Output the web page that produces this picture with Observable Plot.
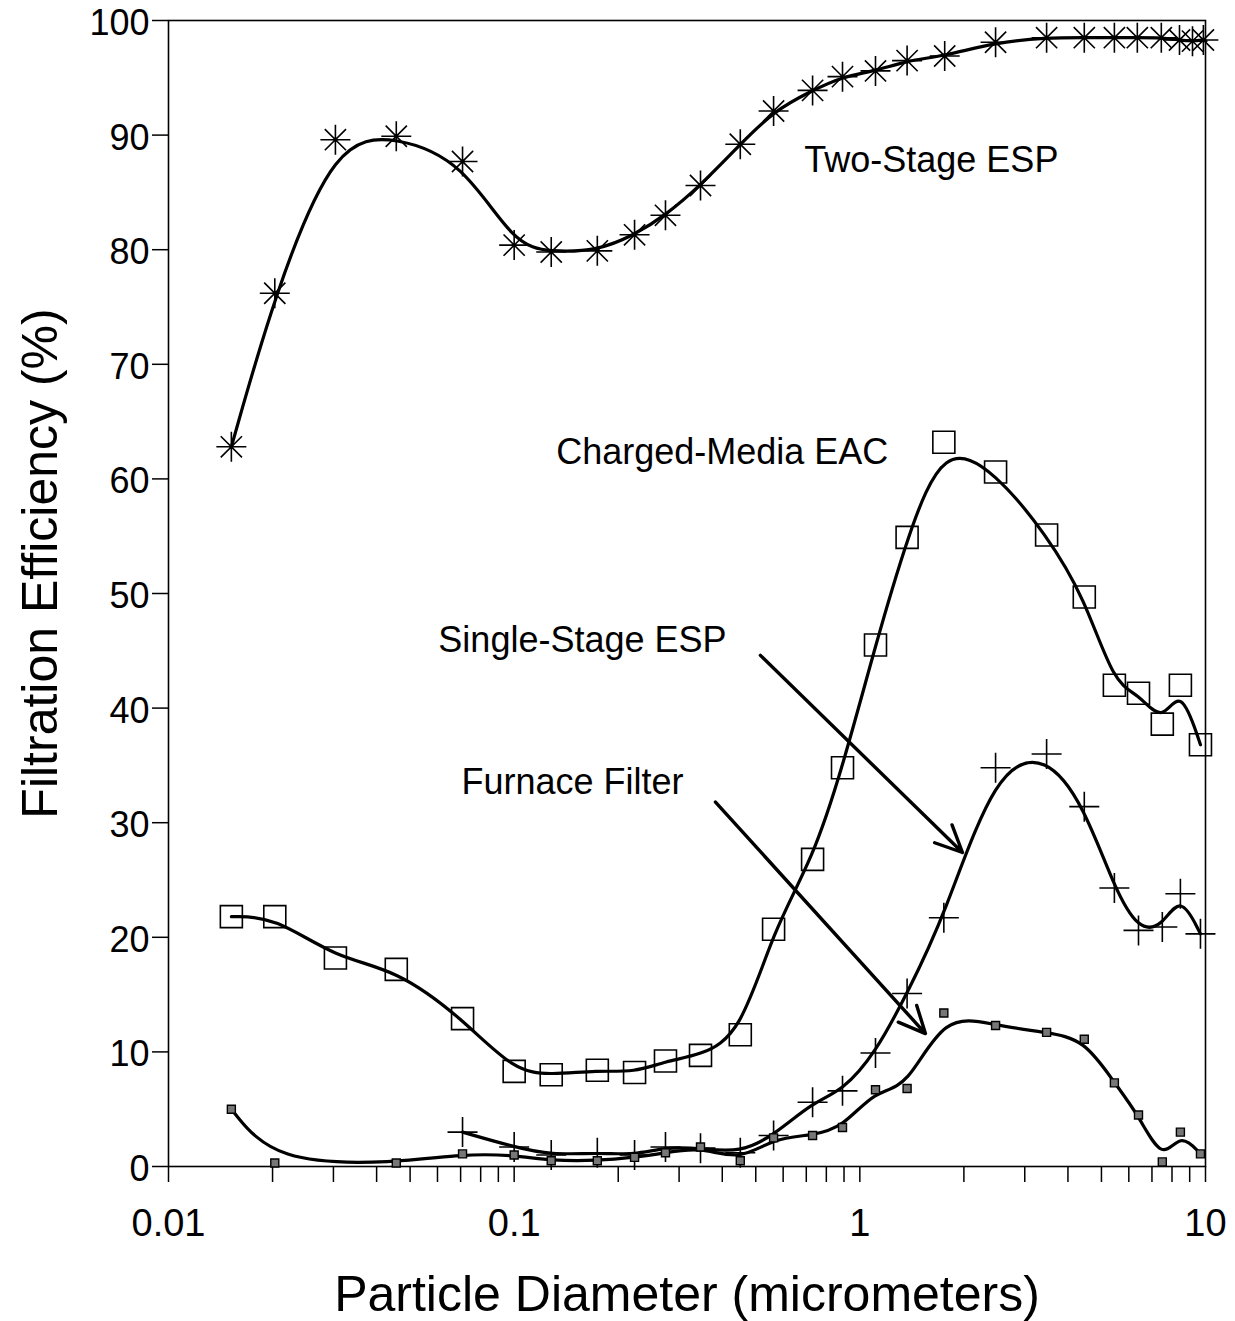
<!DOCTYPE html>
<html>
<head>
<meta charset="utf-8">
<script src="https://cdn.jsdelivr.net/npm/d3@7"></script>
<script src="https://cdn.jsdelivr.net/npm/@observablehq/plot@0.6"></script>
<style>
  html, body { margin: 0; padding: 0; background: #fff; }
  #chart { width: 1235px; height: 1321px; }
</style>
</head>
<body>
<div id="chart"></div>
<script>
// ---------- Data ----------
const twoStageX = [0.0152, 0.0203, 0.0304, 0.0456, 0.0709, 0.100, 0.128, 0.174, 0.223, 0.274, 0.346, 0.451, 0.563, 0.730, 0.891, 1.11, 1.37, 1.76, 2.47, 3.47, 4.46, 5.45, 6.35, 7.45, 8.41, 9.17, 9.86];
const twoStageY = [62.8, 76.2, 89.6, 89.9, 87.7, 80.4, 79.8, 79.9, 81.3, 83.0, 85.6, 89.2, 92.1, 93.9, 95.1, 95.6, 96.5, 96.9, 98.1, 98.5, 98.5, 98.5, 98.5, 98.5, 98.3, 98.2, 98.3];

const chargedX = [0.0152, 0.0203, 0.0304, 0.0456, 0.0709, 0.100, 0.128, 0.174, 0.223, 0.274, 0.346, 0.451, 0.563, 0.730, 0.891, 1.11, 1.37, 1.75, 2.47, 3.47, 4.46, 5.45, 6.40, 7.50, 8.46, 9.67];
const chargedY = [21.8, 21.8, 18.2, 17.2, 12.9, 8.3, 8.0, 8.4, 8.2, 9.2, 9.7, 11.5, 20.7, 26.8, 34.8, 45.5, 54.9, 63.2, 60.6, 55.1, 49.7, 42.0, 41.3, 38.6, 42.0, 36.8];

const singleX = [0.0709, 0.100, 0.128, 0.174, 0.223, 0.274, 0.346, 0.451, 0.563, 0.730, 0.891, 1.11, 1.37, 1.75, 2.47, 3.47, 4.46, 5.45, 6.40, 7.50, 8.46, 9.67];
const singleY = [3.0, 1.7, 1.0, 1.2, 1.0, 1.7, 1.6, 1.2, 2.7, 5.6, 6.6, 9.9, 15.1, 21.7, 34.8, 36.0, 31.4, 24.3, 20.6, 20.9, 23.8, 20.3];

const furnaceX = [0.0152, 0.0203, 0.0456, 0.0709, 0.100, 0.128, 0.174, 0.223, 0.274, 0.346, 0.451, 0.563, 0.730, 0.891, 1.11, 1.37, 1.75, 2.47, 3.47, 4.46, 5.45, 6.40, 7.50, 8.46, 9.67];
const furnaceY = [5.0, 0.3, 0.3, 1.1, 1.0, 0.5, 0.5, 0.8, 1.2, 1.7, 0.5, 2.5, 2.7, 3.4, 6.7, 6.8, 13.4, 12.3, 11.7, 11.1, 7.3, 4.5, 0.4, 3.0, 1.1];

const xDecades = [0.01, 0.1, 1, 10];
const xDecadeLabels = ["0.01", "0.1", "1", "10"];
const yTicks = [0, 10, 20, 30, 40, 50, 60, 70, 80, 90, 100];

const labelText = ["Two-Stage ESP", "Charged-Media EAC", "Single-Stage ESP", "Furnace Filter"];
const labelX = [1.61, 0.400, 0.1576, 0.1475];
const labelY = [87.8, 62.3, 45.9, 33.5];

const arrowX1 = [0.5157, 0.3823];
const arrowY1 = [44.6, 31.8];
const arrowX2 = [1.981, 1.548];
const arrowY2 = [27.4, 11.6];

const xTitle = "Particle Diameter (micrometers)";
const yTitle = "Filtration Efficiency (%)";

// ---------- Build ----------
const rows = (xs, ys) => xs.map((x, i) => ({x, y: ys[i]}));
const twoStage = rows(twoStageX, twoStageY);
const charged = rows(chargedX, chargedY);
const single = rows(singleX, singleY);
const furnace = rows(furnaceX, furnaceY);

const xTicks = [];
for (const d of [0.01, 0.1, 1]) for (let k = 1; k <= 9; k++) xTicks.push(+(d * k).toPrecision(3));
xTicks.push(10);

const rOf = (size) => Math.sqrt(size / Math.PI);
const asterisk8 = {
  draw(ctx, size) {
    const r = rOf(size), d = r * Math.SQRT1_2;
    ctx.moveTo(-r, 0); ctx.lineTo(r, 0);
    ctx.moveTo(0, -r); ctx.lineTo(0, r);
    ctx.moveTo(-d, -d); ctx.lineTo(d, d);
    ctx.moveTo(-d, d); ctx.lineTo(d, -d);
  }
};
const squareOpen = {
  draw(ctx, size) {
    const r = rOf(size);
    ctx.moveTo(-r, -r); ctx.lineTo(r, -r); ctx.lineTo(r, r); ctx.lineTo(-r, r); ctx.closePath();
  }
};
const plusSym = {
  draw(ctx, size) {
    const r = rOf(size);
    ctx.moveTo(-r, 0); ctx.lineTo(r, 0);
    ctx.moveTo(0, -r); ctx.lineTo(0, r);
  }
};

const FONT = "'Liberation Sans', Arial, Helvetica, sans-serif";

const chart = Plot.plot({
  width: 1235,
  height: 1321,
  marginLeft: 168,
  marginRight: 30,
  marginTop: 20,
  marginBottom: 155,
  style: {fontFamily: FONT, background: "white", color: "black"},
  x: {type: "log", domain: [0.01, 10]},
  y: {domain: [0, 100]},
  marks: [
    Plot.frame({stroke: "black", strokeWidth: 1.6}),
    // y ticks (lines only) and y tick labels (nudged down slightly so "100" fits)
    Plot.axisY({ticks: yTicks, tickSize: 16, fill: "none", label: null, strokeWidth: 1.5}),
    Plot.axisY({ticks: yTicks, tickSize: 0, tickPadding: 19, fontSize: 36, dy: 3, label: null}),
    Plot.axisX({ticks: xTicks, tickFormat: (d) => { const i = xDecades.findIndex(v => Math.abs(v - d) < 1e-9); return i >= 0 ? xDecadeLabels[i] : ""; }, tickSize: 16, tickPadding: 27, fontSize: 38, label: null, strokeWidth: 1.5}),
    // curves
    Plot.line(twoStage, {x: "x", y: "y", curve: "basis", stroke: "black", strokeWidth: 3.2}),
    Plot.line(charged, {x: "x", y: "y", curve: "basis", stroke: "black", strokeWidth: 3.2}),
    Plot.line(single, {x: "x", y: "y", curve: "basis", stroke: "black", strokeWidth: 3.2}),
    Plot.line(furnace, {x: "x", y: "y", curve: "basis", stroke: "black", strokeWidth: 3.2}),
    // markers
    Plot.dot(twoStage, {x: "x", y: "y", symbol: asterisk8, r: 15, fill: "none", stroke: "black", strokeWidth: 1.6}),
    Plot.dot(charged, {x: "x", y: "y", symbol: squareOpen, r: 11, fill: "none", stroke: "black", strokeWidth: 1.6}),
    Plot.dot(single, {x: "x", y: "y", symbol: plusSym, r: 15, fill: "none", stroke: "black", strokeWidth: 1.6}),
    Plot.dot(furnace, {x: "x", y: "y", symbol: squareOpen, r: 4, fill: "#777", stroke: "black", strokeWidth: 1.4}),
    // annotation arrows
    Plot.arrow(arrowX1, {x1: (d, i) => arrowX1[i], y1: (d, i) => arrowY1[i], x2: (d, i) => arrowX2[i], y2: (d, i) => arrowY2[i], stroke: "black", strokeWidth: 3.4, headLength: 13, headAngle: 50}),
    // annotation labels
    Plot.text(labelText, {x: (d, i) => labelX[i], y: (d, i) => labelY[i], text: (d) => d, fontSize: 36, textAnchor: "middle", fill: "black"}),
    // axis titles
    Plot.text([xTitle], {frameAnchor: "bottom", text: (d) => d, dy: 128, fontSize: 50, fill: "black", textAnchor: "middle", lineAnchor: "middle"}),
    Plot.text([yTitle], {frameAnchor: "left", text: (d) => d, dx: -128, dy: -30, rotate: -90, fontSize: 50, fill: "black", textAnchor: "middle", lineAnchor: "middle"})
  ]
});
document.getElementById("chart").appendChild(chart);
</script>
</body>
</html>
